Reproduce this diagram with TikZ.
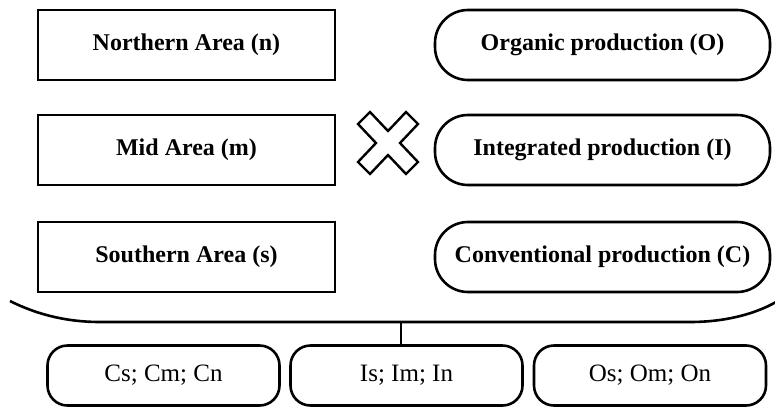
\documentclass[tikz,border=0pt]{standalone}
\usepackage{fontspec}
\setmainfont{Liberation Serif}
\usepackage{tikz}
\usetikzlibrary{positioning, calc}
\tikzset{
	areabox/.style={draw, line width=2.6pt, minimum width=297pt, minimum height=70pt,
		inner sep=0pt, font=\fontsize{24}{28}\selectfont\bfseries}
}
\tikzset{
	prodbox/.style={areabox, minimum width=335pt, rounded corners=33pt}
}
\tikzset{
	combobox/.style={draw, line width=2.6pt, minimum width=232pt, minimum height=60pt,
		inner sep=0pt, rounded corners=20pt, font=\fontsize{25}{29}\selectfont}
}
\tikzset{
  cross/.pic={
    \draw[line width=2.4pt, line join=miter]
      (-18,-31) -- (0,-12) -- (18,-31) -- (30,-19) -- (12,0) -- (30,19)
      -- (18,31) -- (0,12) -- (-18,31) -- (-30,19) -- (-12,0) -- (-30,-19) -- cycle;
  }
}

\begin{document}
\begin{tikzpicture}[x=1pt,y=-1pt]
      \useasboundingbox (0,0) rectangle (775,407);
      \node[areabox] (north) at (186.5,45) {Northern Area (n)};
      \node[areabox] (mid) at (186.5,150) {Mid Area (m)};
      \node[areabox] (south) at (186.5,257) {Southern Area (s)};
      \node[prodbox] (organic) at (602.5,45) {Organic production (O)};
      \node[prodbox] (integrated) at (602.5,150) {Integrated production (I)};
      \node[prodbox] (conventional) at (602.5,257) {Conventional production (C)};
      \pic at (388,143) {cross};
      % wide bracket under both columns
      \draw[line width=2.6pt] (10,301) .. controls (40,316) and (70,322) .. (100,322)
        -- (690,322) .. controls (725,322) and (755,314) .. (776,302);
      \coordinate (brace) at (401,322);
      \node[combobox] (cs) at (163.5,375.5) {Cs; Cm; Cn};
      \node[combobox] (is) at (406.5,375.5) {Is; Im; In};
      \node[combobox] (os) at (650,375.5) {Os; Om; On};
      \draw[line width=2.6pt] (brace) -- (brace |- is.north);
    \end{tikzpicture}
\end{document}
